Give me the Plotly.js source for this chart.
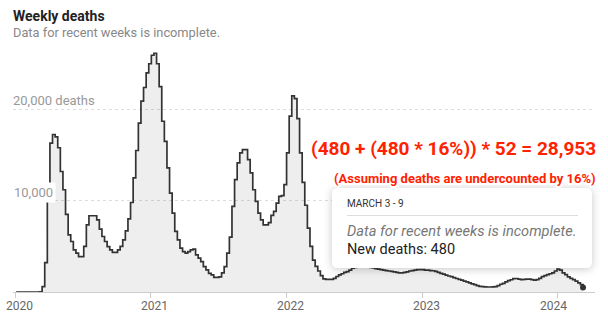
<!DOCTYPE html>
<html><head><meta charset="utf-8">
<script src="https://cdn.plot.ly/plotly-3.0.1.min.js"></script>
<style>
html,body{margin:0;padding:0;background:#fff;}
#chart{width:608px;height:320px;}
.annotation[data-index="0"] text, .annotation[data-index="1"] text{paint-order:stroke fill;stroke:#fff;stroke-width:4px;stroke-linejoin:round;}
.shapelayer path[data-index="0"]{filter:drop-shadow(0 1px 4px rgba(0,0,0,0.22));}
</style></head>
<body><div id="chart"></div>
<script>
// Weekly deaths, one value per week (week ending Saturday)
const deaths2020 = [0,0,0,0,0,0,0,0,0,20,
  580,3220,10100,16300,17250,17000,15800,13200,11200,8500,
  6260,5530,4620,4250,3880,3880,5000,7360,8350,8350,
  8350,7910,6890,6080,5530,4980,4620,4330,4330,4620,
  5000,5710,6700,8000,9800,12500,15500,18500,20900,22400,
  24000,25000];
const deaths2021 = [25930,26150,25000,22500,18700,16500,13590,10840,8640,6630,
  5710,4800,4430,4250,4430,4620,4700,4070,3700,3330,
  2780,2420,2050,1870,1610,1610,1650,2100,2780,4250,
  6000,9370,12300,14140,15240,15600,15600,14500,13040,11200,
  9930,8640,7910,7360,7360,7600,8400,8830,9740,10480,
  10550,11760];
const deaths2022 = [15240,19270,21470,21170,19000,15240,12000,9500,7000,5000,
  3500,2800,2300,1800,1430,1390,1390,1390,1500,1700,
  1870,2000,2150,2230,2400,2600,2700,2800,2850,2900,
  2900,2800,2700,2650,2550,2500,2450,2400,2350,2300,
  2250,2200,2150,2100,2100,2150,2200,2300,2350,2400,
  2450,2450,2450];
const deaths2023 = [2400,2400,2350,2330,2250,2150,2050,1950,1850,1750,
  1680,1580,1480,1380,1300,1200,1100,1000,900,800,
  700,620,580,560,550,550,560,580,700,850,
  950,1100,1240,1340,1460,1480,1400,1350,1380,1420,
  1400,1350,1310,1350,1500,1680,1800,1900,2000,2100,
  2300,2500];
const deaths2024 = [2400,2100,1900,1650,1500,1350,1200,1000,800,480];

const firstWeekEnding = [2020, 0, 4];
const yearTicks = ['2020-01-01','2021-01-01','2022-01-01','2023-01-01','2024-01-01'];
const yearLabels = ['2020','2021','2022','2023','2024'];
const gridValues = [10000, 20000];
const gridLabels = ['10,000', '20,000 deaths'];

const deaths = [].concat(deaths2020, deaths2021, deaths2022, deaths2023, deaths2024);
const t0 = Date.UTC(firstWeekEnding[0], firstWeekEnding[1], firstWeekEnding[2]);
const weekEnding = deaths.map((_, i) => new Date(t0 + i * 7 * 86400000).toISOString().slice(0, 10));
const lastIdx = deaths.length - 1;

const FONT = 'Roboto, "Liberation Sans", Arial, sans-serif';
const RED = '#ff2200';

const traces = [
  {
    x: weekEnding, y: deaths, type: 'scatter', mode: 'lines',
    line: {shape: 'hv', color: '#333', width: 1.7},
    fill: 'tozeroy', fillcolor: 'rgba(0,0,0,0.065)',
    hoverinfo: 'skip'
  },
  {
    x: [weekEnding[lastIdx]], y: [deaths[lastIdx]], type: 'scatter', mode: 'markers',
    marker: {size: 6, color: '#333'}, hoverinfo: 'skip'
  }
];

// tooltip box (paper coordinates)
const bx0 = 0.5481, bx1 = 0.9948, by0 = 0.0972, by1 = 0.4211, rx = 0.0103, ry = 0.0243;
const boxPath = `M ${bx0+rx},${by0} L ${bx1-rx},${by0} Q ${bx1},${by0} ${bx1},${by0+ry} L ${bx1},${by1-ry} Q ${bx1},${by1} ${bx1-rx},${by1} L ${bx0+rx},${by1} Q ${bx0},${by1} ${bx0},${by1-ry} L ${bx0},${by0+ry} Q ${bx0},${by0} ${bx0+rx},${by0} Z`;

const annotations = [
  {xref:'paper', yref:'paper', x:1.0052, y:0.579, xanchor:'right', yanchor:'middle', showarrow:false,
   text:'<b>(480 + (480 * 16%)) * 52 = 28,953</b>', font:{family:FONT, size:19, color:RED}},
  {xref:'paper', yref:'paper', x:1.0052, y:0.4615, xanchor:'right', yanchor:'middle', showarrow:false,
   text:'<b>(Assuming deaths are undercounted by 16%)</b>', font:{family:FONT, size:13, color:RED}},
  {xref:'paper', yref:'paper', x:0, xshift:-2, y:1.1194, xanchor:'left', yanchor:'middle', showarrow:false,
   text:'<b>Weekly deaths</b>', font:{family:FONT, size:14, color:'#222'}},
  {xref:'paper', yref:'paper', x:0, xshift:-2, y:1.0486, xanchor:'left', yanchor:'middle', showarrow:false,
   text:'Data for recent weeks is incomplete.', font:{family:FONT, size:12.8, color:'#888'}},
  {xref:'paper', yref:'y', x:0, xshift:-2, y:gridValues[0], yshift:8.5, xanchor:'left', yanchor:'middle', showarrow:false,
   text:gridLabels[0], bgcolor:'#fff', borderpad:2, font:{family:FONT, size:13, color:'#999'}},
  {xref:'paper', yref:'y', x:0, xshift:-2, y:gridValues[1], yshift:8.5, xanchor:'left', yanchor:'middle', showarrow:false,
   text:gridLabels[1], font:{family:FONT, size:13, color:'#999'}},
  {xref:'paper', yref:'paper', x:0.5739, xshift:-2, y:0.3603, xanchor:'left', yanchor:'middle', showarrow:false,
   text:'MARCH 3 - 9', font:{family:FONT, size:10, color:'#333'}},
  {xref:'paper', yref:'paper', x:0.5739, xshift:-2, y:0.247, xanchor:'left', yanchor:'middle', showarrow:false,
   text:'<i>Data for recent weeks is incomplete.</i>', font:{family:FONT, size:14.6, color:'#777'}},
  {xref:'paper', yref:'paper', x:0.5739, xshift:-2, y:0.174, xanchor:'left', yanchor:'middle', showarrow:false,
   text:'New deaths: 480', font:{family:FONT, size:14.5, color:'#222'}}
];
// year labels under the axis (offset slightly from their tick marks, as in the original)
yearTicks.forEach((d, i) => {
  annotations.push({xref:'x', yref:'paper', x:d, xshift:(i === yearTicks.length - 1 ? -4.5 : 4),
    y:-0.0567, xanchor:'center', yanchor:'middle', showarrow:false,
    text:yearLabels[i], font:{family:FONT, size:12, color:'#666'}});
});

const layout = {
  width: 608, height: 320,
  margin: {l: 13, r: 13, t: 45, b: 28},
  paper_bgcolor: '#fff', plot_bgcolor: '#fff',
  showlegend: false,
  font: {family: FONT},
  xaxis: {
    type: 'date', range: ['2019-12-26 14:00', '2024-04-10 05:00'],
    tickvals: yearTicks, showticklabels: false,
    ticks: 'outside', ticklen: 5, tickwidth: 1, tickcolor: '#ccc',
    showline: true, linecolor: '#ccc', linewidth: 1,
    showgrid: false, zeroline: false,
    fixedrange: true
  },
  yaxis: {
    range: [0, 27053], tickvals: gridValues, showticklabels: false,
    showgrid: true, gridcolor: '#ddd', gridwidth: 1, griddash: '3px,3px',
    zeroline: false, showline: false, ticks: '', fixedrange: true
  },
  shapes: [
    {type:'path', xref:'paper', yref:'paper', path: boxPath, fillcolor:'#fff', line:{width:0}, layer:'above'},
    {type:'line', xref:'paper', yref:'paper', x0:0.5739, x1:0.9708, y0:0.3097, y1:0.3097, line:{color:'#ddd', width:1}, layer:'above'}
  ],
  annotations: annotations
};

Plotly.newPlot('chart', traces, layout, {displayModeBar: false, staticPlot: true});
</script>
</body></html>
